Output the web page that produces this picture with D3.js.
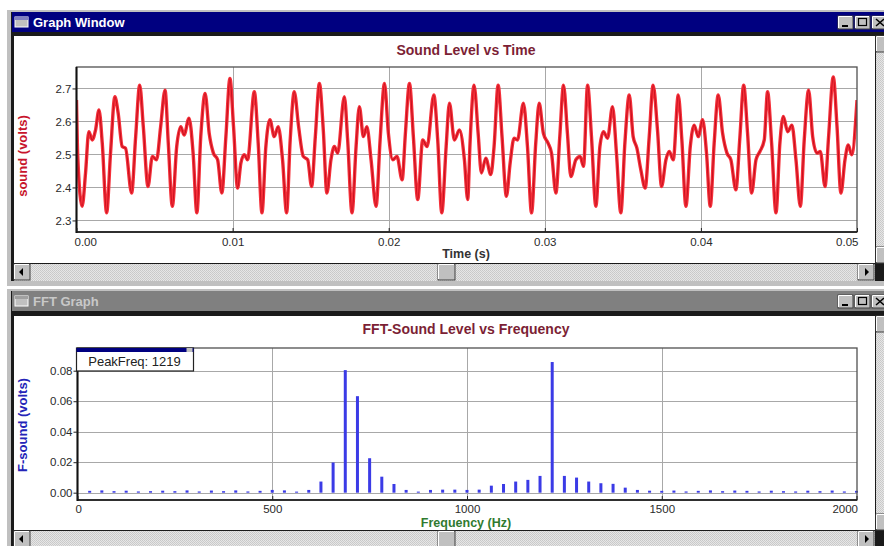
<!DOCTYPE html>
<html>
<head>
<meta charset="utf-8">
<script src="https://cdn.jsdelivr.net/npm/d3@7"></script>
<style>
  body { margin: 0; background: #fff; }
  svg { display: block; font-family: "Liberation Sans", Arial, sans-serif; }
</style>
</head>
<body>
<div id="graphs"></div>
<script>
// 1. DATA

// sound level vs time : time in ms, value in volts
const timeMs = [
    0.00, 0.08, 0.36, 0.58, 0.79, 1.01, 1.22, 1.44, 1.65, 1.93,
    2.18, 2.46, 2.67, 2.93, 3.14, 3.53, 3.79, 4.05, 4.28, 4.58,
    4.86, 5.13, 5.39, 5.67, 5.88, 6.14, 6.42, 6.68, 6.89, 7.21,
    7.47, 7.71, 7.96, 8.24, 8.50, 8.77, 9.04, 9.31, 9.57, 9.83,
    10.06, 10.32, 10.53, 10.75, 10.96, 11.39, 11.64, 11.88, 12.13, 12.39,
    12.67, 12.92, 13.20, 13.46, 13.69, 13.95, 14.23, 14.53, 14.81, 15.06,
    15.30, 15.56, 15.81, 16.04, 16.30, 16.52, 16.73, 17.16, 17.37, 17.65,
    17.91, 18.12, 18.38, 18.60, 18.87, 19.19, 19.45, 19.73, 19.98, 20.26,
    20.53, 20.86, 21.07, 21.33, 21.58, 21.86, 22.18, 22.46, 22.89, 23.14,
    23.40, 23.68, 23.89, 24.21, 24.53, 24.85, 25.06, 25.21, 25.47, 25.73,
    25.94, 26.22, 26.54, 26.75, 27.01, 27.26, 27.54, 27.78, 28.03, 28.25,
    28.63, 28.89, 29.15, 29.42, 29.64, 29.91, 30.21, 30.43, 30.71, 30.96,
    31.20, 31.45, 31.67, 31.99, 32.26, 32.48, 32.74, 32.99, 33.27, 33.53,
    33.76, 34.02, 34.34, 34.59, 34.87, 35.13, 35.41, 35.66, 35.90, 36.15,
    36.43, 36.69, 36.94, 37.22, 37.48, 37.76, 37.97, 38.23, 38.55, 38.78,
    39.04, 39.32, 39.57, 39.83, 40.11, 40.36, 40.60, 40.85, 41.11, 41.39,
    41.67, 41.92, 42.24, 42.50, 42.74, 42.99, 43.25, 43.53, 43.78, 44.06,
    44.27, 44.53, 44.81, 45.06, 45.28, 45.56, 45.83, 46.09, 46.37, 46.62,
    46.90, 47.16, 47.44, 47.65, 47.95, 48.18, 48.48, 48.72, 48.97, 49.23,
    49.44, 49.66, 50.00
]
const soundVolts = [
    2.665, 2.494, 2.343, 2.444, 2.569, 2.544, 2.574, 2.635, 2.534, 2.323,
    2.504, 2.675, 2.625, 2.524, 2.519, 2.383, 2.554, 2.710, 2.584, 2.403,
    2.494, 2.484, 2.584, 2.695, 2.534, 2.343, 2.524, 2.584, 2.559, 2.610,
    2.504, 2.323, 2.554, 2.685, 2.564, 2.504, 2.484, 2.383, 2.554, 2.730,
    2.584, 2.398, 2.474, 2.499, 2.484, 2.690, 2.534, 2.323, 2.524, 2.605,
    2.554, 2.584, 2.484, 2.323, 2.544, 2.690, 2.584, 2.494, 2.484, 2.403,
    2.554, 2.715, 2.574, 2.383, 2.484, 2.524, 2.504, 2.675, 2.544, 2.323,
    2.524, 2.645, 2.554, 2.584, 2.484, 2.343, 2.544, 2.715, 2.564, 2.484,
    2.494, 2.423, 2.564, 2.715, 2.554, 2.363, 2.544, 2.524, 2.680, 2.544,
    2.323, 2.524, 2.655, 2.544, 2.574, 2.484, 2.363, 2.534, 2.710, 2.564,
    2.444, 2.489, 2.439, 2.524, 2.710, 2.554, 2.373, 2.474, 2.549, 2.544,
    2.655, 2.524, 2.323, 2.534, 2.655, 2.564, 2.534, 2.504, 2.383, 2.554,
    2.710, 2.564, 2.433, 2.484, 2.494, 2.464, 2.710, 2.554, 2.343, 2.524,
    2.569, 2.549, 2.645, 2.504, 2.323, 2.534, 2.680, 2.554, 2.519, 2.454,
    2.398, 2.554, 2.710, 2.574, 2.403, 2.484, 2.509, 2.484, 2.680, 2.544,
    2.343, 2.524, 2.589, 2.554, 2.605, 2.504, 2.343, 2.534, 2.680, 2.564,
    2.504, 2.484, 2.393, 2.554, 2.710, 2.564, 2.383, 2.484, 2.509, 2.544,
    2.690, 2.534, 2.323, 2.534, 2.615, 2.569, 2.589, 2.484, 2.343, 2.544,
    2.695, 2.554, 2.504, 2.509, 2.403, 2.554, 2.735, 2.584, 2.383, 2.484,
    2.529, 2.499, 2.665
]
const timeTicks = [0, 0.01, 0.02, 0.03, 0.04, 0.05]
const soundTicks = [2.3, 2.4, 2.5, 2.6, 2.7]

// FFT : frequency bins (Hz) and amplitude (volts)
const fftFreq = [
    31.25, 62.5, 93.75, 125, 156.25, 187.5, 218.75, 250,
    281.25, 312.5, 343.75, 375, 406.25, 437.5, 468.75, 500,
    531.25, 562.5, 593.75, 625, 656.25, 687.5, 718.75, 750,
    781.25, 812.5, 843.75, 875, 906.25, 937.5, 968.75, 1000,
    1031.25, 1062.5, 1093.75, 1125, 1156.25, 1187.5, 1218.75, 1250,
    1281.25, 1312.5, 1343.75, 1375, 1406.25, 1437.5, 1468.75, 1500,
    1531.25, 1562.5, 1593.75, 1625, 1656.25, 1687.5, 1718.75, 1750,
    1781.25, 1812.5, 1843.75, 1875, 1906.25, 1937.5, 1968.75, 2000
]
const fftVolts = [
    0.0012, 0.0015, 0.0010, 0.0013, 0.0008, 0.0010, 0.0013, 0.0010,
    0.0015, 0.0008, 0.0014, 0.0010, 0.0015, 0.0008, 0.0012, 0.0018,
    0.0015, 0.0007, 0.0018, 0.0073, 0.0198, 0.0804, 0.0633, 0.0226,
    0.0105, 0.0057, 0.0018, 0.0007, 0.0018, 0.0020, 0.0020, 0.0018,
    0.0020, 0.0046, 0.0057, 0.0073, 0.0084, 0.0110, 0.0857, 0.0110,
    0.0099, 0.0073, 0.0062, 0.0058, 0.0033, 0.0018, 0.0013, 0.0012,
    0.0014, 0.0008, 0.0012, 0.0015, 0.0010, 0.0014, 0.0012, 0.0008,
    0.0013, 0.0010, 0.0008, 0.0013, 0.0010, 0.0014, 0.0008, 0.0012
]
const freqTicks = [0, 500, 1000, 1500, 2000]
const fftTicks = [0, 0.02, 0.04, 0.06, 0.08]
const peakFreq = 1219

const soundData = timeMs.map((t, i) => ({ t: t / 1000, v: soundVolts[i] }))
const fftData = fftFreq.map((f, i) => ({ f: f, v: fftVolts[i] }))

// 2. CANVAS
const width = 884
const height = 546
const svg = d3.select("#graphs")
    .append("svg")
    .attr("width", width)
    .attr("height", height)

const defs = svg.append("defs")
const stipple = defs.append("pattern")
    .attr("id", "stipple")
    .attr("width", 2).attr("height", 2)
    .attr("patternUnits", "userSpaceOnUse")
stipple.append("rect").attr("width", 2).attr("height", 2).attr("fill", "#e6e6e6")
stipple.append("rect").attr("width", 1).attr("height", 1).attr("fill", "#c8c8c8")
stipple.append("rect").attr("x", 1).attr("y", 1).attr("width", 1).attr("height", 1).attr("fill", "#cccccc")

// 3. WINDOW CHROME
function button(g, x, y, w, h) {
    g.append("rect").attr("x", x).attr("y", y).attr("width", w).attr("height", h)
        .attr("fill", "#c0c0c0").attr("stroke", "#404040").attr("stroke-width", 1)
    g.append("path").attr("d", `M${x + 0.5},${y + h - 1}V${y + 0.5}H${x + w - 1}`)
        .attr("fill", "none").attr("stroke", "#fff")
}

function drawWindow(win) {
    const g = svg.append("g")
    g.append("rect")
        .attr("x", 7).attr("y", win.top - 2)
        .attr("width", width - 7).attr("height", win.bottom - win.top + 2)
        .attr("fill", "#c0c0c0")
    g.append("rect")
        .attr("x", 11).attr("y", win.top)
        .attr("width", width - 11).attr("height", win.scrollBottom - win.top)
        .attr("fill", "#1a1a1a")
    g.append("rect")
        .attr("x", 12).attr("y", win.top)
        .attr("width", width - 12).attr("height", 20)
        .attr("fill", win.active ? "#000080" : "#808080")

    // little window icon
    g.append("rect").attr("x", 15).attr("y", win.top + 5).attr("width", 13).attr("height", 10)
        .attr("fill", "#c0c0c0").attr("stroke", "#fff").attr("stroke-width", 1)
    g.append("rect").attr("x", 15).attr("y", win.top + 5).attr("width", 13).attr("height", 3)
        .attr("fill", win.active ? "#8080c0" : "#a0a0a0")

    g.append("text")
        .attr("x", 33).attr("y", win.top + 14.5)
        .attr("fill", win.active ? "#fff" : "#c8c8c8")
        .style("font-size", "13px").style("font-weight", "bold")
        .text(win.title)

    // min / max / close buttons
    const by = win.top + 4
    button(g, 838, by, 15, 13)
    g.append("rect").attr("x", 842).attr("y", by + 9).attr("width", 6).attr("height", 2).attr("fill", "#000")
    button(g, 855, by, 15, 13)
    g.append("rect").attr("x", 858.5).attr("y", by + 2.5).attr("width", 8).attr("height", 7)
        .attr("fill", "none").attr("stroke", "#000").attr("stroke-width", 1.2)
    button(g, 872, by, 15, 13)
    g.append("path").attr("d", `M876,${by + 3}L884,${by + 10}M884,${by + 3}L876,${by + 10}`)
        .attr("stroke", "#000").attr("stroke-width", 1.5)

    // client area
    g.append("rect")
        .attr("x", 14).attr("y", win.client)
        .attr("width", 861).attr("height", win.scrollTop - win.client - 1)
        .attr("fill", "#fff")

    // vertical scrollbar (cut by the screen edge)
    g.append("rect").attr("x", 876).attr("y", win.client)
        .attr("width", 8).attr("height", win.scrollTop - win.client - 1)
        .attr("fill", "url(#stipple)")
    button(g, 876, win.client, 16, 16)
    button(g, 876, win.scrollTop - 17, 16, 16)

    // horizontal scrollbar
    g.append("rect").attr("x", 14).attr("y", win.scrollTop)
        .attr("width", 861).attr("height", win.scrollBottom - win.scrollTop)
        .attr("fill", "url(#stipple)")
    button(g, 14, win.scrollTop, 16, 16)
    g.append("path").attr("d", `M19,${win.scrollTop + 8}l4,-4v8z`).attr("fill", "#000")
    button(g, 858, win.scrollTop, 16, 16)
    g.append("path").attr("d", `M869,${win.scrollTop + 8}l-4,-4v8z`).attr("fill", "#000")
    button(g, 438, win.scrollTop, 17, 16)
}

drawWindow({ title: "Graph Window", active: true, top: 12, client: 36, scrollTop: 264, scrollBottom: 281, bottom: 286 })
drawWindow({ title: "FFT  Graph", active: false, top: 291, client: 316, scrollTop: 531, scrollBottom: 548, bottom: 548 })

// 4. CHART HELPERS (frame, grid, axes)
function drawFrame(opt) {
    const { x, y, box } = opt
    const g = svg.append("g")

    // grid
    g.selectAll(".hgrid").data(opt.yTicks).enter().append("line")
        .attr("x1", box.left).attr("x2", box.right)
        .attr("y1", d => Math.round(y(d)) + 0.5).attr("y2", d => Math.round(y(d)) + 0.5)
        .attr("stroke", "#a8a8a8")
    g.selectAll(".vgrid").data(opt.xTicks.slice(1, -1)).enter().append("line")
        .attr("y1", box.top).attr("y2", box.bottom)
        .attr("x1", d => Math.round(x(d)) + 0.5).attr("x2", d => Math.round(x(d)) + 0.5)
        .attr("stroke", "#a8a8a8")

    // title
    g.append("text")
        .attr("x", 466).attr("y", opt.titleY)
        .attr("text-anchor", "middle")
        .attr("fill", "#7c1f35")
        .style("font-size", "14px").style("font-weight", "bold")
        .text(opt.title)

    // y axis label
    g.append("text")
        .attr("transform", `translate(27, ${opt.yLabelY}) rotate(-90)`)
        .attr("text-anchor", "middle")
        .attr("fill", opt.yLabelColor)
        .style("font-size", "13px").style("font-weight", "bold")
        .text(opt.yLabel)

    // x axis label
    g.append("text")
        .attr("x", 466).attr("y", opt.xLabelY)
        .attr("text-anchor", "middle")
        .attr("fill", opt.xLabelColor)
        .style("font-size", "12.5px").style("font-weight", "bold")
        .text(opt.xLabel)
    return g
}

function drawAxes(opt) {
    const { x, y, box } = opt
    const g = svg.append("g")
    g.append("rect")
        .attr("x", box.left).attr("y", box.top)
        .attr("width", box.right - box.left).attr("height", box.bottom - box.top)
        .attr("fill", "none").attr("stroke", "#505050").attr("stroke-width", 1.3)
    g.append("line")
        .attr("x1", box.left).attr("x2", box.left)
        .attr("y1", box.top).attr("y2", box.bottom + 1)
        .attr("stroke", "#111").attr("stroke-width", 2)
    g.append("line")
        .attr("x1", box.left).attr("x2", box.right)
        .attr("y1", box.bottom).attr("y2", box.bottom)
        .attr("stroke", "#111").attr("stroke-width", 1.6)

    const yAxis = g.append("g")
        .attr("transform", `translate(${box.left},0)`)
        .call(d3.axisLeft(y).tickValues(opt.yTicks).tickSize(4).tickPadding(1)
            .tickFormat(opt.yFormat))
    const xAxis = g.append("g")
        .attr("transform", `translate(0,${box.bottom})`)
        .call(d3.axisBottom(x).tickValues(opt.xTicks).tickSize(-4).tickPadding(opt.xPad)
            .tickFormat(opt.xFormat))

    for (const ax of [xAxis, yAxis]) {
        ax.select(".domain").remove()
        ax.selectAll("line").attr("stroke", "#222")
        ax.selectAll("text")
            .attr("fill", "#2a2a2a")
            .style("font-size", "11.5px")
            .style("font-family", "'Liberation Sans', Arial, sans-serif")
    }
    const xt = xAxis.selectAll("text")
    xt.filter((d, i) => i === 0).attr("text-anchor", "start").attr("dx", -2.5)
    xt.filter((d, i) => i === opt.xTicks.length - 1).attr("text-anchor", "end").attr("dx", 1)
}

// 5. SOUND LEVEL VS TIME
const timeBox = { left: 76.5, right: 857, top: 67, bottom: 232 }
const xTime = d3.scaleLinear()
    .domain([0, 0.05])
    .range([timeBox.left, timeBox.right])
const ySound = d3.scaleLinear()
    .domain([2.265, 2.765])
    .range([timeBox.bottom, timeBox.top])

const timeOpt = {
    x: xTime, y: ySound, box: timeBox,
    xTicks: timeTicks, yTicks: soundTicks, xPad: 6,
    xFormat: d3.format(".2f"), yFormat: d3.format(".1f"),
    title: "Sound Level vs Time", titleY: 55,
    xLabel: "Time (s)", xLabelY: 258, xLabelColor: "#333",
    yLabel: "sound (volts)", yLabelY: 156, yLabelColor: "#c8142c"
}
drawFrame(timeOpt)

defs.append("clipPath").attr("id", "clip-time")
    .append("rect")
    .attr("x", timeBox.left).attr("y", timeBox.top)
    .attr("width", timeBox.right - timeBox.left).attr("height", timeBox.bottom - timeBox.top)

const soundLine = d3.line()
    .x(d => xTime(d.t))
    .y(d => ySound(d.v))
    .curve(d3.curveMonotoneX)

const lineGroup = svg.append("g").attr("clip-path", "url(#clip-time)")
lineGroup.append("path")
    .datum(soundData)
    .attr("d", soundLine)
    .attr("fill", "none")
    .attr("stroke", "#f5303a")
    .attr("stroke-width", 3.4)
    .attr("stroke-linejoin", "round")
lineGroup.append("path")
    .datum(soundData)
    .attr("d", soundLine)
    .attr("fill", "none")
    .attr("stroke", "#c8101e")
    .attr("stroke-width", 1.1)
    .attr("stroke-linejoin", "round")

drawAxes(timeOpt)

// 6. FFT SOUND LEVEL VS FREQUENCY
const fftBox = { left: 77.5, right: 857, top: 348, bottom: 500 }
const xFreq = d3.scaleLinear()
    .domain([0, 2000])
    .range([fftBox.left, 856.5])
const yFft = d3.scaleLinear()
    .domain([-0.0048, 0.0949])
    .range([fftBox.bottom, fftBox.top])

const fftOpt = {
    x: xFreq, y: yFft, box: fftBox,
    xTicks: freqTicks, yTicks: fftTicks, xPad: 5,
    xFormat: d3.format("d"), yFormat: d3.format(".2f"),
    title: "FFT-Sound Level vs Frequency", titleY: 334,
    xLabel: "Frequency (Hz)", xLabelY: 527, xLabelColor: "#2f7a2f",
    yLabel: "F-sound (volts)", yLabelY: 425, yLabelColor: "#2424b8"
}
drawFrame(fftOpt)

svg.append("g").selectAll("rect")
    .data(fftData)
  .enter().append("rect")
    .attr("x", d => xFreq(d.f) - 1.5)
    .attr("y", d => yFft(d.v))
    .attr("width", 3)
    .attr("height", d => yFft(0) - yFft(d.v))
    .attr("fill", "#3b3be6")

drawAxes(fftOpt)

// peak frequency box
const peak = svg.append("g")
peak.append("rect")
    .attr("x", fftBox.left - 1).attr("y", fftBox.top)
    .attr("width", 117).attr("height", 23)
    .attr("fill", "#fff").attr("stroke", "#222").attr("stroke-width", 1.2)
peak.append("rect")
    .attr("x", fftBox.left - 1).attr("y", fftBox.top)
    .attr("width", 117).attr("height", 4)
    .attr("fill", "#000080")
peak.append("rect")
    .attr("x", fftBox.left + 109).attr("y", fftBox.top)
    .attr("width", 6).attr("height", 4)
    .attr("fill", "#c0c0c0")
peak.append("text")
    .attr("x", fftBox.left + 57).attr("y", fftBox.top + 18)
    .attr("text-anchor", "middle")
    .attr("fill", "#222")
    .style("font-size", "13px")
    .text(`PeakFreq: ${peakFreq}`)
</script>
</body>
</html>
